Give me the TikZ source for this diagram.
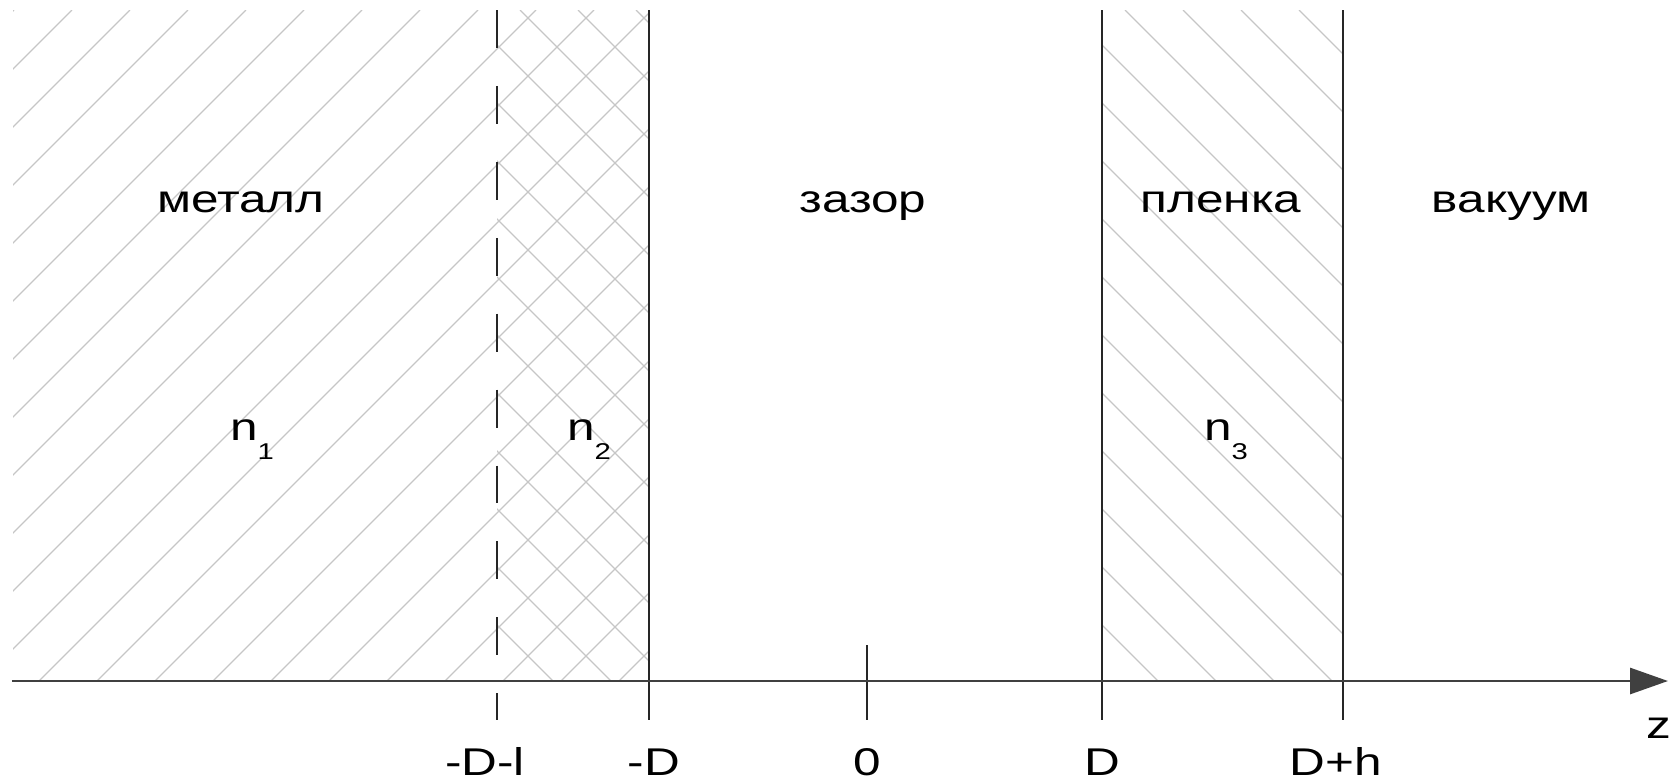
\documentclass[tikz,border=0pt]{standalone}
\usepackage{fontspec}
\setmainfont{Liberation Sans}
\usepackage{graphicx}
\usetikzlibrary{arrows.meta}
\newcommand\stretchtext[1]{\scalebox{1.28}[1]{#1}}
\newcommand\nidx[1]{\stretchtext{n\raisebox{-5.6pt}{\fontsize{6.5}{7}\selectfont #1}}}

\begin{document}
\begin{tikzpicture}[
    hatch/.style={gray!45,line width=.35pt},
    wall/.style={black!85,line width=.6pt},
    lbl/.style={anchor=base,inner sep=0pt,font=\fontsize{11}{13}\selectfont}
  ]
  \useasboundingbox (0,0) rectangle (16.77,7.81);
  % metal + transition layer
  \begin{scope}
    \clip (0.13,1) rectangle (6.49,7.71);
    \foreach \a in {-6.57,-5.99,...,6.6}
      \draw[hatch] (\a,1) -- ++(6.71,6.71);
  \end{scope}
  \begin{scope}
    \clip (4.97,1) rectangle (6.49,7.71);
    \foreach \a in {4.95,5.53,...,13.4}
      \draw[hatch] (\a,1) -- ++(-6.71,6.71);
  \end{scope}
  % film
  \begin{scope}
    \clip (11.02,1) rectangle (13.43,7.71);
    \foreach \a in {11.0,11.58,...,20.3}
      \draw[hatch] (\a,1) -- ++(-6.71,6.71);
  \end{scope}
  % boundaries
  \draw[wall,dash pattern=on 10.8pt off 10.8pt] (4.97,7.71) -- (4.97,0.61);
  \draw[wall] (6.49,7.71) -- (6.49,0.61);
  \draw[wall] (8.67,1.36) -- (8.67,0.61);
  \draw[wall] (11.02,7.71) -- (11.02,0.61);
  \draw[wall] (13.43,7.71) -- (13.43,0.61);
  % axis
  \coordinate (ax0) at (0.12,1);
  \coordinate (ax1) at (16.68,1);
  \draw[black!75,line width=.8pt,-{Triangle[length=10.8pt,width=7.4pt]}] (ax0) -- (ax1);
  \node[lbl] (z) at (16.59,0.43) {\stretchtext{z}};
  % region names
  \node[lbl] (metal) at (2.41,5.69) {\stretchtext{металл}};
  \node[lbl] (gap) at (8.63,5.69) {\stretchtext{зазор}};
  \node[lbl] (film) at (12.21,5.69) {\stretchtext{пленка}};
  \node[lbl] (vac) at (15.11,5.69) {\stretchtext{вакуум}};
  \node[lbl] (n1) at (2.52,3.41) {\nidx{1}};
  \node[lbl] (n2) at (5.89,3.41) {\nidx{2}};
  \node[lbl] (n3) at (12.26,3.41) {\nidx{3}};
  % ticks
  \node[lbl] (tDl) at (4.85,0.06) {\stretchtext{-D-l}};
  \node[lbl] (tmD) at (6.54,0.06) {\stretchtext{-D}};
  \node[lbl] (t0) at (8.67,0.06) {\stretchtext{0}};
  \node[lbl] (tD) at (11.02,0.06) {\stretchtext{D}};
  \node[lbl] (tDh) at (13.36,0.06) {\stretchtext{D+h}};
\end{tikzpicture}
\end{document}
